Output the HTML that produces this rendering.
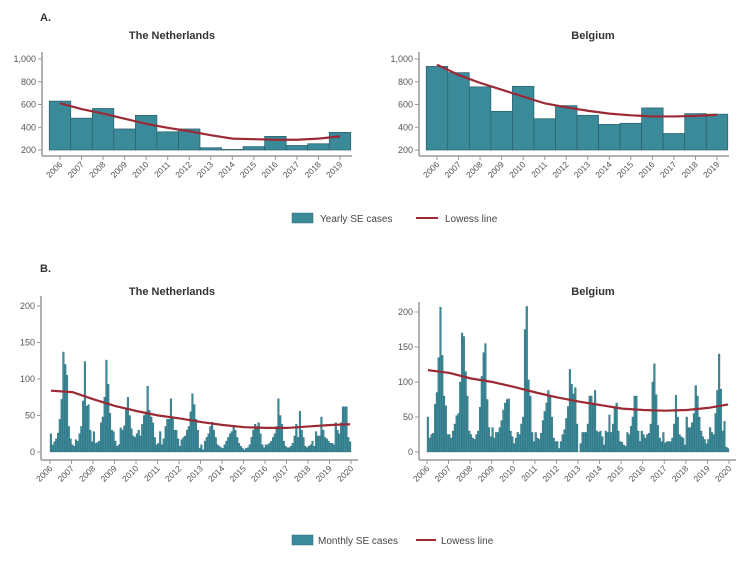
<!DOCTYPE html>
<html><head><meta charset="utf-8"><style>
body{margin:0;background:#fff;font-family:"Liberation Sans",sans-serif}
svg text{font-family:"Liberation Sans",sans-serif}
</style></head><body>
<svg id="c" width="754" height="561" viewBox="0 0 754 561" xmlns="http://www.w3.org/2000/svg">
<text x="40" y="21" font-size="11" font-weight="bold" fill="#333">A.</text>
<text x="40" y="272" font-size="11" font-weight="bold" fill="#333">B.</text>
<text x="172" y="39" font-size="11" font-weight="bold" fill="#333" text-anchor="middle">The Netherlands</text>
<text x="593" y="39" font-size="11" font-weight="bold" fill="#333" text-anchor="middle">Belgium</text>
<text x="172" y="295" font-size="11" font-weight="bold" fill="#333" text-anchor="middle">The Netherlands</text>
<text x="593" y="295" font-size="11" font-weight="bold" fill="#333" text-anchor="middle">Belgium</text>
<g>
<rect x="292" y="213" width="21" height="10" fill="#3a8a9a" stroke="#2a6a78" stroke-width="0.5"/>
<text x="320" y="222" font-size="10" fill="#444">Yearly SE cases</text>
<line x1="416" y1="218" x2="438" y2="218" stroke="#9b2a35" stroke-width="2"/>
<text x="445" y="222" font-size="10" fill="#444">Lowess line</text>
</g>
<g>
<rect x="292" y="535" width="21" height="10" fill="#3a8a9a" stroke="#2a6a78" stroke-width="0.5"/>
<text x="318" y="544" font-size="10" fill="#444">Monthly SE cases</text>
<line x1="416" y1="540" x2="436" y2="540" stroke="#9b2a35" stroke-width="2"/>
<text x="441" y="544" font-size="10" fill="#444">Lowess line</text>
</g>
</svg>
<script>
const years = [2006,2007,2008,2009,2010,2011,2012,2013,2014,2015,2016,2017,2018,2019];
const nlYearly = [630,480,565,385,505,360,385,220,205,230,320,240,255,355];
const nlYearlyLowess = [610,560,520,475,430,395,365,330,300,295,290,290,300,320];
const beYearly = [935,880,755,540,760,475,590,505,425,435,570,345,520,515];
const beYearlyLowess = [950,860,790,730,670,610,575,545,520,505,495,495,500,510];
const yearlyTicks = [200,400,600,800,1000];
const yearlyTickLabels = ["200","400","600","800","1,000"];

const monthlyYears = [2006,2007,2008,2009,2010,2011,2012,2013,2014,2015,2016,2017,2018,2019,2020];
const nlMonthly = [
25,10,14,18,26,45,72,137,120,105,35,18,
10,8,17,15,25,35,70,124,63,65,30,14,
28,12,13,15,40,48,75,126,93,53,30,28,
15,8,10,33,30,36,58,75,50,32,22,20,
25,30,22,38,50,55,90,57,48,40,20,10,
12,28,10,18,35,45,45,73,47,30,30,18,
8,17,20,22,30,35,55,80,65,45,30,5,
10,3,15,20,25,35,41,30,20,10,8,6,
5,10,15,20,25,28,35,30,20,12,8,5,
3,5,6,10,20,30,38,35,40,25,10,6,
10,10,12,15,20,25,35,73,50,38,15,8,
6,6,8,12,22,38,20,56,30,20,8,6,
8,10,15,8,28,22,22,48,30,20,18,15,
12,12,10,40,30,25,40,62,62,62,20,14];
const beMonthly = [
50,20,25,27,68,85,135,207,138,80,66,25,
25,20,30,40,52,55,100,170,165,115,80,30,
25,20,18,25,30,64,108,142,155,75,35,22,
35,20,28,28,35,45,60,70,75,76,30,22,
12,20,28,25,40,50,175,208,103,80,28,15,
28,20,18,27,45,58,70,88,80,50,20,15,
15,5,15,25,32,48,65,118,97,83,92,40,
0,12,28,28,28,40,80,80,70,88,30,28,
30,22,10,30,28,53,28,40,65,70,30,15,
14,10,8,28,25,37,50,80,80,30,15,30,
25,20,25,27,40,100,126,82,38,20,15,28,
13,15,15,15,20,40,81,50,25,22,20,10,
50,35,35,42,55,95,80,50,30,22,18,12,
18,35,28,25,55,88,140,90,30,44,7,5];
const nlMonthlyLowess = [84,82,72,63,56,50,46,41,37,34,33,33,35,37,38];
const beMonthlyLowess = [117,113,105,100,93,85,78,72,67,62,60,59,60,63,68];
const monthlyTicks = [0,50,100,150,200];

const NS="http://www.w3.org/2000/svg";
const svg=document.getElementById('c');
function mk(tag,attrs,parent){const e=document.createElementNS(NS,tag);for(const k in attrs)e.setAttribute(k,attrs[k]);(parent||svg).appendChild(e);return e;}
const BAR="#3a8a9a",BARS="#2a5f6b",LINE="#9b2a35",AX="#999";

function axes(g,axX,xL,xR,yBase,yAxisTop,yScale,ticks,labels){
  mk('line',{x1:axX,y1:yAxisTop,x2:axX,y2:yBase,stroke:AX,'stroke-width':1.5},g);
  mk('line',{x1:axX,y1:yBase,x2:xR,y2:yBase,stroke:AX,'stroke-width':1.5},g);
  ticks.forEach((t,i)=>{const y=yScale(t);
    mk('line',{x1:axX-4,y1:y,x2:axX,y2:y,stroke:AX},g);
    const tx=mk('text',{x:axX-6,y:y+3,'font-size':9,fill:'#555','text-anchor':'end'},g);
    
    
    tx.textContent=labels[i];});
}
function xlabels(g,xs,labs,yBase){
  xs.forEach((x,i)=>{
    mk('line',{x1:x,y1:yBase,x2:x,y2:yBase+4,stroke:AX},g);
    const t=mk('text',{x:x+3,y:yBase+9,'font-size':8.5,fill:'#555','text-anchor':'end',transform:`rotate(-45 ${x+3} ${yBase+9})`},g);
    
    
    t.textContent=labs[i];});
}
function yearly(name,axX,x0,x1,vals,low){
  const g=mk('g',{});
  
  
  const y=v=>150-(v-200)*(91/800);
  const step=(x1-x0)/(years.length-1);
  const xs=years.map((_,i)=>x0+i*step);
  vals.forEach((v,i)=>{const r=mk('rect',{x:xs[i]-step/2,y:y(v),width:step,height:150-y(v),fill:BAR,stroke:BARS,'stroke-width':0.7},g);
    
    });
  const p=mk('polyline',{points:low.map((v,i)=>xs[i]+','+y(v)).join(' '),fill:'none',stroke:LINE,'stroke-width':2.2},g);
  
  
  axes(g,axX,0,x1+12,156,52,y,yearlyTicks,yearlyTickLabels);
  xlabels(g,xs,years.map(String),156);
}
yearly('nl-yearly-chart',42,60,340,nlYearly,nlYearlyLowess);
yearly('be-yearly-chart',419,437,717,beYearly,beYearlyLowess);

function monthly(name,axX,x0,x1,y200,vals,low){
  const g=mk('g',{});
  
  
  const y=v=>452-v*((452-y200)/200);
  const step=(x1-x0)/168;
  vals.forEach((v,i)=>{const r=mk('rect',{x:x0+i*step,y:y(v),width:step,height:452-y(v),fill:BAR,stroke:BARS,'stroke-width':0.3},g);
    
    });
  const xs=monthlyYears.map((_,i)=>x0+Math.min(i*12,167)*step+step/2);
  const p=mk('polyline',{points:low.map((v,i)=>xs[i]+','+y(v)).join(' '),fill:'none',stroke:LINE,'stroke-width':2.2},g);
  
  
  axes(g,axX,0,x1+7,460,y200-10,y,monthlyTicks,monthlyTicks.map(String));
  xlabels(g,monthlyYears.map((_,i)=>x0+i*12*step),monthlyYears.map(String),460);
}
monthly('nl-monthly-chart',41,50,351,306,nlMonthly,nlMonthlyLowess);
monthly('be-monthly-chart',419,427,729,312,beMonthly,beMonthlyLowess);
</script>
</body></html>
